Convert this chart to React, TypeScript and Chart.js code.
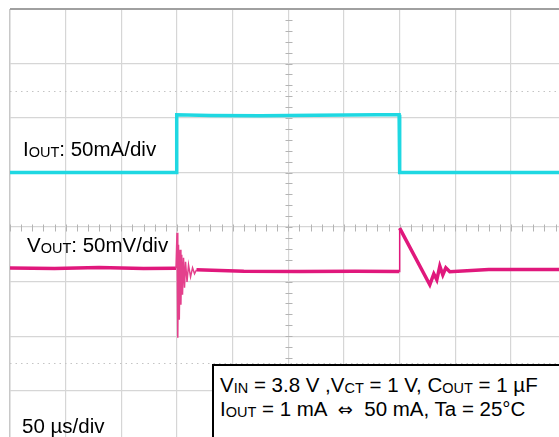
import { useEffect, useRef } from 'react'
import { Chart, registerables } from 'chart.js'

Chart.register(...registerables)

// time axis in divisions (50 µs/div), vertical axis in divisions from screen centre
const X_GRID = [0, 1, 2, 3, 4, 5, 6, 7, 8, 9]
const Y_GRID = [-3, -2, -1, 0, 1, 2, 3, 4]
const X_MAX = 9.862
const Y_MIN = -3.85
const Y_MAX = 4
const DOTTED_Y = [2.5, -2.5]

// IOUT trace, 50 mA/div
const IOUT_T = [0, 2.985, 2.995, 3.6, 4.5, 5.5, 6.6, 6.99, 7.0, 8.2, X_MAX]
const IOUT_Y = [1.0, 1.0, 2.06, 2.045, 2.04, 2.05, 2.06, 2.06, 1.0, 1.0, 1.0]

// VOUT trace, 50 mV/div
const VOUT_T = [
  0, 0.8, 1.6, 2.4, 2.982, 3.0, 3.014, 3.027, 3.041, 3.056, 3.07, 3.085, 3.099,
  3.117, 3.135, 3.153, 3.18, 3.207, 3.243, 3.279, 3.315, 3.35, 4.2, 5.2, 6.2,
  6.99, 7.0, 7.541, 7.613, 7.667, 7.721, 7.775, 7.829, 7.9, 8.6, X_MAX,
]
const VOUT_Y = [
  -0.75, -0.76, -0.74, -0.76, -0.756, -0.105, -2.03, -0.325, -1.7, -0.417, -1.426, -0.508, -1.242,
  -0.563, -1.114, -0.637, -1.004, -0.692, -0.912, -0.747, -0.857, -0.783, -0.81, -0.815, -0.81,
  -0.815, -0.018, -1.059, -0.857, -0.967, -0.716, -0.875, -0.747, -0.82, -0.78, -0.78,
]

const toPoints = (t: number[], y: number[]) => t.map((x, i) => ({ x, y: y[i] }))

const scopeGrid = {
  id: 'scopeGrid',
  beforeDatasetsDraw(chart: Chart) {
    const { ctx, chartArea: a } = chart
    const xs = chart.scales.x
    const ys = chart.scales.y
    const cx = Math.round(xs.getPixelForValue(5)) + 0.5
    const cy = Math.round(ys.getPixelForValue(0)) + 0.5
    ctx.save()
    ctx.strokeStyle = '#b4b4b4'
    ctx.lineWidth = 1
    ctx.beginPath()
    for (let v = Y_MIN; v <= Y_MAX; v += 0.2) {
      const y = Math.round(ys.getPixelForValue(Math.round(v * 5) / 5)) + 0.5
      ctx.moveTo(cx - 3, y)
      ctx.lineTo(cx + 4, y)
    }
    for (let v = 0; v <= X_MAX; v += 0.2) {
      const x = Math.round(xs.getPixelForValue(Math.round(v * 5) / 5)) + 0.5
      ctx.moveTo(x, cy - 3)
      ctx.lineTo(x, cy + 4)
    }
    ctx.stroke()
    ctx.strokeStyle = '#c4c4c4'
    ctx.setLineDash([1.5, 4])
    ctx.beginPath()
    DOTTED_Y.forEach((v) => {
      const y = Math.round(ys.getPixelForValue(v)) + 0.5
      ctx.moveTo(a.left, y)
      ctx.lineTo(a.right, y)
    })
    ctx.stroke()
    ctx.setLineDash([])
    // top frame line is darker than the rest of the graticule
    ctx.strokeStyle = '#a0a0a0'
    ctx.lineWidth = 2
    ctx.beginPath()
    ctx.moveTo(a.left, ys.getPixelForValue(Y_MAX))
    ctx.lineTo(a.right, ys.getPixelForValue(Y_MAX))
    ctx.stroke()
    ctx.restore()
  },
}

const font = '"Liberation Sans", Arial, sans-serif'
const sub = { fontSize: 14.5, verticalAlign: -1 } as const
const arrow = { fontFamily: '"DejaVu Sans", sans-serif', fontSize: 18 } as const
const label = (left: number, top: number) =>
  ({ position: 'absolute', left, top, fontSize: 20.5, lineHeight: '20px', whiteSpace: 'nowrap', color: '#000' }) as const

export default function App() {
  const canvasRef = useRef<HTMLCanvasElement | null>(null)

  useEffect(() => {
    if (!canvasRef.current) return
    const chart = new Chart(canvasRef.current, {
      type: 'line',
      data: {
        datasets: [
          {
            label: 'IOUT',
            data: toPoints(IOUT_T, IOUT_Y),
            borderColor: '#1fd8e2',
            borderWidth: 3.5,
            pointRadius: 0,
            tension: 0,
          },
          {
            label: 'VOUT',
            data: toPoints(VOUT_T, VOUT_Y),
            borderColor: '#e0187c',
            borderWidth: 3.5,
            pointRadius: 0,
            tension: 0,
            segment: {
              borderWidth: (c: any) => (c.p1.parsed.x - c.p0.parsed.x < 0.05 ? 1.5 : undefined),
              borderColor: (c: any) => (c.p1.parsed.x - c.p0.parsed.x < 0.05 && c.p0.parsed.x < 4 ? '#e4408c' : undefined),
            },
          },
        ],
      },
      options: {
        animation: false,
        responsive: true,
        maintainAspectRatio: false,
        layout: { padding: { left: 10, top: 9, right: 0, bottom: 0 } },
        scales: {
          x: {
            type: 'linear',
            min: 0,
            max: X_MAX,
            afterBuildTicks: (s: any) => { s.ticks = X_GRID.map((value) => ({ value })) },
            ticks: { display: false },
            border: { display: false },
            grid: {
              drawTicks: false,
              color: (c: any) => (c.tick && c.tick.value === 0 ? '#c8c8c8' : '#d6d6d6'),
              lineWidth: (c: any) => (c.tick && c.tick.value === 0 ? 1.5 : 1.2),
            },
          },
          y: {
            type: 'linear',
            min: Y_MIN,
            max: Y_MAX,
            afterBuildTicks: (s: any) => { s.ticks = Y_GRID.map((value) => ({ value })) },
            ticks: { display: false },
            border: { display: false },
            grid: {
              drawTicks: false,
              color: '#d6d6d6',
              lineWidth: 1.2,
            },
          },
        },
        plugins: {
          legend: { display: false },
          tooltip: { enabled: false },
        },
      },
      plugins: [scopeGrid],
    })
    return () => chart.destroy()
  }, [])

  return (
    <div style={{ position: 'fixed', left: 0, top: 0, width: 559, height: 437, overflow: 'hidden', background: '#fff', fontFamily: font }}>
      <canvas ref={canvasRef} style={{ display: 'block' }} />
      <div style={label(23, 139)}>I<span style={sub}>OUT</span>: 50mA/div</div>
      <div style={label(27, 235)}>V<span style={sub}>OUT</span>: 50mV/div</div>
      <div style={label(22, 416)}>50 µs/div</div>
      <div style={{ position: 'absolute', left: 212, top: 364, width: 360, height: 90, border: '2px solid #000', background: '#fff' }} />
      <div style={label(220, 375)}>
        V<span style={sub}>IN</span> = 3.8 V ,V<span style={sub}>CT</span> = 1 V, C<span style={sub}>OUT</span> = 1 µF
      </div>
      <div style={label(220, 399)}>
        I<span style={sub}>OUT</span> = 1 mA &nbsp;<span style={arrow}>⇔</span>&nbsp; 50 mA, Ta = 25°C
      </div>
    </div>
  )
}
